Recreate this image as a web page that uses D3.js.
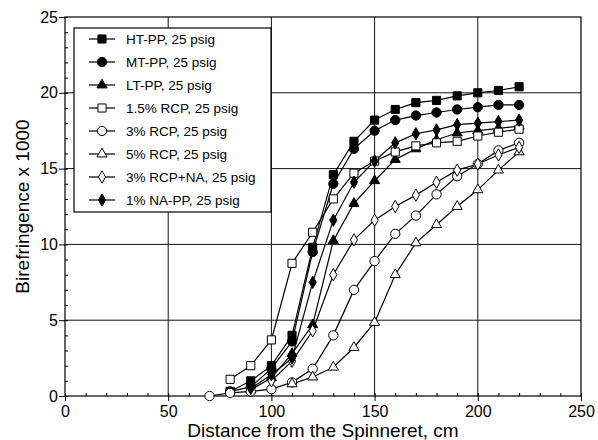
<!DOCTYPE html>
<html><head><meta charset="utf-8">
<script src="https://cdn.jsdelivr.net/npm/d3@7"></script>
<style>body{margin:0;background:#fff}svg{display:block}text{font-family:"Liberation Sans",Arial,Helvetica,sans-serif;fill:#000}</style>
</head><body><div id="chart"></div>
<script>
const seriesNames = ["HT-PP, 25 psig","MT-PP, 25 psig","LT-PP, 25 psig","1.5% RCP, 25 psig","3% RCP, 25 psig","5% RCP, 25 psig","3% RCP+NA, 25 psig","1% NA-PP, 25 psig"];
const markerTypes = ["square","circle","triangle","square","circle","triangle","diamond","diamond"];
const markerFilled = [true,true,true,false,false,false,false,true];
const xHT = [80,90,100,110,120,130,140,150,160,170,180,190,200,210,220];
const yHT = [0.3,1.0,2.0,4.0,9.8,14.6,16.8,18.2,18.9,19.35,19.5,19.8,20.0,20.15,20.4];
const xMT = [80,90,100,110,120,130,140,150,160,170,180,190,200,210,220];
const yMT = [0.3,0.6,1.8,3.6,9.5,14.0,16.3,17.5,18.2,18.5,18.7,18.9,19.05,19.2,19.2];
const xLT = [90,100,110,120,130,140,150,160,170,180,190,200,210,220];
const yLT = [0.4,1.2,2.8,4.7,10.25,12.7,14.2,15.6,16.3,16.9,17.35,17.5,17.65,17.8];
const xR15 = [80,90,100,110,120,130,140,150,160,170,180,190,200,210,220];
const yR15 = [1.1,2.0,3.7,8.75,10.8,13.0,14.7,15.5,16.1,16.5,16.7,16.8,17.15,17.4,17.6];
const xR3 = [70,80,90,100,110,120,130,140,150,160,170,180,190,200,210,220];
const yR3 = [0,0.2,0.3,0.45,0.9,1.8,4.0,7.0,8.9,10.7,11.9,13.3,14.5,15.3,16.2,16.7];
const xR5 = [110,120,130,140,150,160,170,180,190,200,210,220];
const yR5 = [0.8,1.25,1.9,3.2,4.85,8.0,10.1,11.3,12.5,13.6,14.9,16.1];
const xRNA = [100,110,120,130,140,150,160,170,180,190,200,210,220];
const yRNA = [1.0,2.3,4.3,8.0,10.3,11.6,12.5,13.25,14.1,14.9,15.3,15.9,16.4];
const xNA = [90,100,110,120,130,140,150,160,170,180,190,200,210,220];
const yNA = [0.5,1.4,2.5,7.5,11.6,14.1,15.5,16.7,17.3,17.55,17.9,18.0,18.1,18.2];
const xTicks = [0,50,100,150,200,250];
const yTicks = [0,5,10,15,20,25];
const xTitle = "Distance from the Spinneret, cm";
const yTitle = "Birefringence x 1000";

const seriesX = [xHT,xMT,xLT,xR15,xR3,xR5,xRNA,xNA];
const seriesY = [yHT,yMT,yLT,yR15,yR3,yR5,yRNA,yNA];

const W=598,H=440;
const m={l:65,r:17,t:17,b:44};
const svg=d3.select("#chart").append("svg").attr("width",W).attr("height",H);
const x=d3.scaleLinear().domain([0,250]).range([m.l,W-m.r]);
const y=d3.scaleLinear().domain([0,25]).range([H-m.b,m.t]);

// gridlines
const g=svg.append("g");
g.selectAll(".gx").data(xTicks.slice(1,-1)).join("line")
 .attr("x1",d=>x(d)).attr("x2",d=>x(d)).attr("y1",y(0)).attr("y2",y(25))
 .attr("stroke","#111").attr("stroke-width",1);
g.selectAll(".gy").data(yTicks.slice(1,-1)).join("line")
 .attr("y1",d=>y(d)).attr("y2",d=>y(d)).attr("x1",x(0)).attr("x2",x(250))
 .attr("stroke","#111").attr("stroke-width",1);

// axes
const xAxis=svg.append("g").attr("transform",`translate(0,${y(0)})`)
 .call(d3.axisBottom(x).tickValues(xTicks).tickSize(5).tickSizeOuter(0));
const xMinor=svg.append("g").attr("transform",`translate(0,${y(0)})`)
 .call(d3.axisBottom(x).tickValues(d3.range(0,251,10)).tickSize(-3).tickFormat(""));
const yAxis=svg.append("g").attr("transform",`translate(${x(0)},0)`)
 .call(d3.axisLeft(y).tickValues(yTicks).tickSize(6).tickSizeOuter(0));
const yMinor=svg.append("g").attr("transform",`translate(${x(0)},0)`)
 .call(d3.axisLeft(y).tickValues(d3.range(0,25.1,1)).tickSize(-3).tickFormat(""));
[xAxis,xMinor,yAxis,yMinor].forEach(a=>{a.select(".domain").remove();a.selectAll("line").attr("stroke","#000");});
xAxis.selectAll("text").attr("font-size",16).attr("dy","0.85em").attr("y",7);
yAxis.selectAll("text").attr("font-size",16).attr("x",-7);

// frame
svg.append("rect").attr("x",x(0)).attr("y",y(25)).attr("width",x(250)-x(0)).attr("height",y(0)-y(25))
 .attr("fill","none").attr("stroke","#000").attr("stroke-width",1.2);

// titles
svg.append("text").attr("x",(x(0)+x(250))/2).attr("y",437).attr("text-anchor","middle").attr("font-size",19).text(xTitle);
svg.append("text").attr("transform",`translate(29,${(y(0)+y(25))/2}) rotate(-90)`).attr("text-anchor","middle").attr("font-size",19).text(yTitle);

function sym(t){
  const map={square:d3.symbolSquare,circle:d3.symbolCircle,triangle:d3.symbolTriangle,diamond:d3.symbolDiamond};
  const size={square:66,circle:68,triangle:44,diamond:44}[t];
  return d3.symbol().type(map[t]).size(size)();
}
const line=d3.line().x(d=>x(d[0])).y(d=>y(d[1]));
const plot=svg.append("g");
seriesNames.forEach((n,i)=>{
  const pts=seriesX[i].map((v,j)=>[v,seriesY[i][j]]);
  plot.append("path").datum(pts).attr("d",line).attr("fill","none").attr("stroke","#000").attr("stroke-width",1.2);
});
seriesNames.forEach((n,i)=>{
  const pts=seriesX[i].map((v,j)=>[v,seriesY[i][j]]);
  plot.selectAll(null).data(pts).join("path")
   .attr("transform",d=>`translate(${x(d[0])},${y(d[1])})`)
   .attr("d",sym(markerTypes[i]))
   .attr("fill",markerFilled[i]?"#000":"#fff").attr("stroke","#000").attr("stroke-width",1);
});

// legend
const lg=svg.append("g");
lg.append("rect").attr("x",74).attr("y",28).attr("width",197).attr("height",184)
 .attr("fill","#fff").attr("stroke","#000").attr("stroke-width",1.2);
seriesNames.forEach((n,i)=>{
  const cy=39+i*23;
  lg.append("line").attr("x1",89).attr("x2",115).attr("y1",cy).attr("y2",cy).attr("stroke","#000").attr("stroke-width",1.2);
  lg.append("path").attr("transform",`translate(102,${cy})`).attr("d",sym(markerTypes[i]))
   .attr("fill",markerFilled[i]?"#000":"#fff").attr("stroke","#000");
  lg.append("text").attr("x",126).attr("y",cy).attr("dy","0.35em").attr("font-size",13.5).text(n);
});
</script></body></html>
